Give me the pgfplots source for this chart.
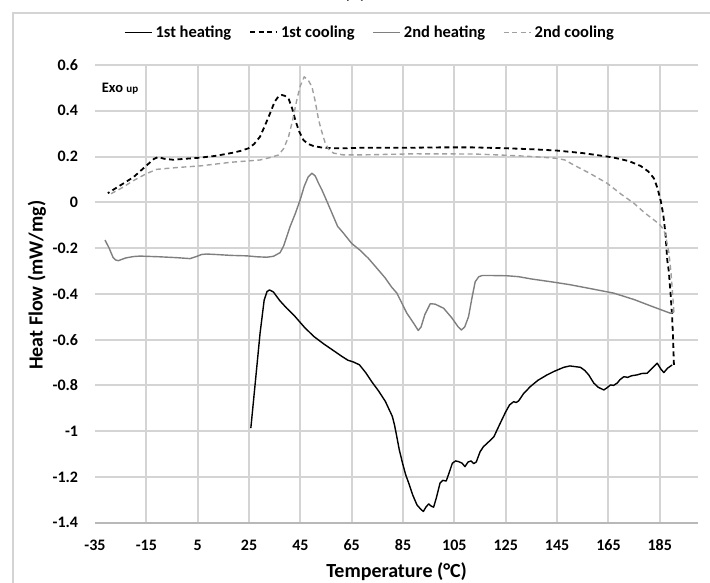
\documentclass[border=0pt]{standalone}
\usepackage{fontspec}
\setmainfont{Carlito}
\usepackage{pgfplots}
\pgfplotsset{compat=1.18}
\definecolor{gridc}{HTML}{D4D4D4}
\definecolor{framec}{HTML}{D4D4D4}
\definecolor{axc}{HTML}{B8B8B8}
\definecolor{heatB}{HTML}{7F7F7F}
\definecolor{coolB}{HTML}{A0A0A0}
\begin{document}
\begin{tikzpicture}[x=1pt,y=1pt]
\useasboundingbox (-95,-60.3) rectangle (615,522.7);
\draw[framec, line width=2pt] (-81.7,-100) -- (-81.7,509.4) -- (700,509.4);
\node[font=\fontsize{20}{24}\selectfont\bfseries, anchor=base] at (260,524) {(a)};
\begin{axis}[
  at={(0,0)}, anchor=south west,
  scale only axis, width=603.3pt, height=457.7pt,
  xmin=-35, xmax=200, ymin=-1.4, ymax=0.6,
  xtick={-15,5,25,45,65,85,105,125,145,165,185},
  extra x ticks={-35}, extra x tick style={xmajorgrids=false},
  ytick={-1.4,-1.2,-1,-0.8,-0.6,-0.4,-0.2,0,0.2,0.4,0.6},
  xmajorgrids=true, ymajorgrids=true,
  major grid style={draw=gridc, line width=2pt},
  axis x line*=bottom, axis y line*=left,
  x axis line style={draw=axc, line width=2pt, -},
  y axis line style={draw=none},
  major tick length=0pt,
  /pgf/number format/assume math mode=true,
  ticklabel style={font=\fontsize{16}{19}\selectfont\bfseries, inner sep=0pt},
  yticklabel style={/pgf/number format/fixed, /pgf/number format/precision=1, xshift=-16.7pt},
  xticklabel style={yshift=-16.8pt},
  xlabel={Temperature (°C)},
  ylabel={Heat Flow (mW/mg)},
  label style={font=\fontsize{20}{24}\selectfont\bfseries},
  xlabel style={at={(axis description cs:0.5,0)}, anchor=center, yshift=-49pt},
  ylabel style={at={([xshift=-58pt]axis description cs:0,0.519)}, anchor=center},
  legend style={at={(0.4558,1.0714)}, anchor=center, draw=none, fill=none,
    font=\fontsize{16.5}{19}\selectfont\bfseries, inner sep=0pt,
    /tikz/every even column/.append style={column sep=16pt},
    /tikz/every odd column/.append style={column sep=1pt}},
  legend columns=4,
  legend image code/.code={\draw[#1] (0pt,0pt) -- (27pt,0pt);},
]
\addplot[black, line width=1.4pt, line join=round] coordinates {
(25.7,-0.987) (27.5,-0.78) (29.3,-0.572) (30.9,-0.427) (32,-0.39) (33,-0.383) (34.5,-0.392) (37,-0.43) (39.7,-0.463) (43,-0.5) (46.5,-0.545) (50.1,-0.585) (54,-0.618) (57.9,-0.648) (61,-0.672) (63.5,-0.69) (65.7,-0.698) (68,-0.71) (70.5,-0.745) (72.8,-0.784) (75.5,-0.825) (78.1,-0.87) (80.8,-0.935) (81.7,-0.975) (82.3,-1.009) (83.5,-1.08) (84.8,-1.14) (86,-1.19) (87.2,-1.227) (88.8,-1.28) (90.4,-1.322) (91.8,-1.34) (92.9,-1.351) (94,-1.33) (95,-1.318) (96,-1.328) (96.9,-1.332) (98,-1.29) (99.4,-1.227) (100.5,-1.215) (101.8,-1.218) (103,-1.18) (104.2,-1.14) (105.5,-1.13) (106.6,-1.133) (108,-1.14) (109.1,-1.155) (110.3,-1.135) (111.5,-1.13) (112.5,-1.142) (113.5,-1.135) (115,-1.09) (116.3,-1.068) (118.5,-1.045) (120.4,-1.024) (121.6,-0.995) (123.5,-0.95) (125,-0.915) (126.5,-0.885) (128.1,-0.871) (129,-0.875) (130,-0.868) (132,-0.835) (134.6,-0.805) (137.5,-0.778) (141.1,-0.754) (144,-0.738) (147.6,-0.721) (150,-0.715) (152,-0.718) (154.1,-0.721) (155.8,-0.735) (157.3,-0.754) (159.3,-0.79) (161,-0.808) (163.2,-0.82) (164.5,-0.81) (165.8,-0.798) (167,-0.8) (168.4,-0.79) (169.5,-0.775) (171,-0.762) (172.5,-0.765) (174,-0.758) (176.2,-0.754) (178,-0.748) (180.1,-0.747) (182,-0.725) (184,-0.703) (185.5,-0.73) (186.6,-0.744) (188,-0.725) (189.8,-0.711)
};
\addlegendentry{1st heating}
\addplot[black, line width=1.8pt, dash pattern=on 5pt off 3.5pt] coordinates {
(190.5,-0.71) (190.2,-0.6) (189.8,-0.5) (189.2,-0.4) (188.5,-0.3) (187.9,-0.252) (187.2,-0.135) (186.3,-0.05) (185.3,0.01) (184,0.065) (182.7,0.105) (180.5,0.135) (177.5,0.159) (173,0.18) (168,0.193) (164.5,0.2) (155,0.215) (145,0.226) (135,0.232) (125.5,0.236) (112,0.24) (99.5,0.24) (85,0.238) (68.3,0.238) (61.8,0.236) (57.9,0.236) (53,0.24) (50.1,0.246) (48,0.255) (46.2,0.272) (44.5,0.31) (43,0.36) (41.8,0.41) (40.5,0.45) (39,0.465) (37.8,0.469) (36.5,0.463) (35,0.44) (33.2,0.389) (31,0.33) (29.3,0.287) (27,0.255) (24.8,0.236) (21.8,0.225) (18.9,0.217) (12,0.203) (5.9,0.195) (0,0.19) (-4.5,0.186) (-8,0.19) (-10.3,0.198) (-12,0.19) (-16,0.15) (-20,0.11) (-25,0.075) (-30,0.04)
};
\addlegendentry{1st cooling}
\addplot[heatB, line width=1.4pt, line join=round] coordinates {
(-31.1,-0.165) (-29.5,-0.2) (-28,-0.24) (-27,-0.252) (-25.9,-0.255) (-23,-0.243) (-20,-0.237) (-17.5,-0.235) (-10,-0.238) (-3,-0.242) (2,-0.246) (4.5,-0.237) (6.5,-0.228) (8.5,-0.226) (12,-0.228) (18,-0.232) (24.1,-0.234) (28,-0.238) (31.9,-0.24) (34.5,-0.236) (37.1,-0.22) (38.5,-0.19) (40,-0.14) (41,-0.106) (43,-0.05) (44.9,0.01) (46.5,0.07) (48,0.11) (49.5,0.127) (50.8,0.115) (52,0.085) (53.4,0.054) (55.5,0.0) (57.9,-0.063) (59.5,-0.105) (61.8,-0.135) (65,-0.18) (68.3,-0.21) (71.5,-0.245) (74.8,-0.288) (78,-0.33) (80.5,-0.37) (82.6,-0.397) (84.5,-0.44) (86.5,-0.485) (89.1,-0.528) (90.9,-0.56) (92,-0.545) (93.5,-0.49) (95.6,-0.443) (97.5,-0.445) (100.8,-0.463) (104,-0.505) (106.5,-0.545) (107.7,-0.558) (109,-0.545) (110.5,-0.5) (111.8,-0.42) (113.1,-0.347) (114.5,-0.325) (115.8,-0.32) (120,-0.32) (125.5,-0.321) (130,-0.325) (135,-0.335) (143.7,-0.349) (150,-0.36) (157,-0.375) (163,-0.388) (167.1,-0.397) (175,-0.425) (182,-0.455) (189.2,-0.485) (190.5,-0.48)
};
\addlegendentry{2nd heating}
\addplot[coolB, line width=1.4pt, dash pattern=on 5pt off 3.5pt] coordinates {
(190.5,-0.48) (190,-0.4) (189.3,-0.3) (188.5,-0.216) (187.5,-0.16) (186.6,-0.121) (184.8,-0.095) (182.7,-0.077) (179,-0.045) (174.9,-0.004) (170,0.035) (164.5,0.083) (158,0.125) (151.5,0.163) (148,0.185) (145,0.192) (138,0.198) (132,0.202) (120,0.208) (112.5,0.211) (90,0.212) (68.3,0.207) (61.8,0.207) (57.9,0.215) (56,0.232) (54.7,0.258) (53.3,0.31) (52.1,0.36) (50.8,0.44) (49.5,0.505) (48,0.535) (46.5,0.548) (45,0.51) (43.6,0.447) (42,0.36) (40.4,0.287) (38.5,0.235) (36.5,0.207) (33,0.195) (29.3,0.185) (18,0.175) (5.9,0.159) (-3,0.152) (-11,0.144) (-15,0.125) (-20,0.095) (-25,0.06) (-29.2,0.035)
};
\addlegendentry{2nd cooling}
\node[anchor=west, inner sep=0pt, font=\fontsize{14.5}{17}\selectfont\bfseries] at (axis cs:-32.4,0.498) {Exo {\fontsize{11}{13}\selectfont up}};
\end{axis}
\end{tikzpicture}
\end{document}
